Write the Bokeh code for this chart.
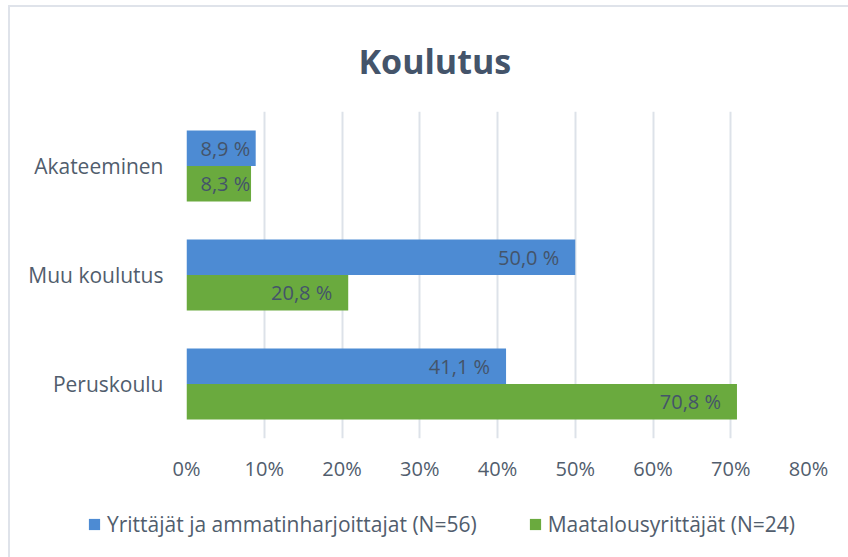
from bokeh.plotting import figure
from bokeh.models import ColumnDataSource, FactorRange, Range1d, FixedTicker, Legend, LegendItem
from bokeh.layouts import column
from bokeh.transform import dodge
from bokeh.core.properties import value
from bokeh.embed import file_html
from bokeh.resources import INLINE

# ---- data ----
categories = ["Akateeminen", "Muu koulutus", "Peruskoulu"]
yrittajat = [8.9, 50.0, 41.1]
maatalous = [8.3, 20.8, 70.8]
series_names = ["Yrittäjät ja ammatinharjoittajat (N=56)", "Maatalousyrittäjät (N=24)"]
x_ticks = [0, 10, 20, 30, 40, 50, 60, 70, 80]
x_tick_labels = ["0%", "10%", "20%", "30%", "40%", "50%", "60%", "70%", "80%"]
title_text = "Koulutus"

# ---- style ----
FONT = "Open Sans"
TEXT_COLOR = "#515d6d"
LABEL_COLOR = "#44546A"
BLUE = "#4d8bd3"
GREEN = "#6aaa3e"
FRAME_LINE = "#dfe3ea"
BAR_H = 0.326
HALF = BAR_H / 2


def fmt(v):
    return f"{v:.1f}".replace(".", ",") + " %"


def label_cols(vals):
    xs, offs, aligns, texts = [], [], [], []
    for v in vals:
        texts.append(fmt(v))
        if v < 15:
            xs.append(0); offs.append(14); aligns.append("left")
        else:
            xs.append(v); offs.append(-16); aligns.append("right")
    return xs, offs, aligns, texts


bx, bo, ba, bt = label_cols(yrittajat)
gx, go, ga, gt = label_cols(maatalous)

src_b = ColumnDataSource(dict(cat=categories, val=yrittajat, lx=bx, lo=bo, la=ba, lt=bt))
src_g = ColumnDataSource(dict(cat=categories, val=maatalous, lx=gx, lo=go, la=ga, lt=gt))

W = 848
p = figure(
    width=W, height=495,
    y_range=FactorRange(factors=list(reversed(categories))),
    x_range=Range1d(0, 80),
    output_backend="svg", toolbar_location=None,
    min_border_left=186, min_border_right=W - 808,
    min_border_top=111, min_border_bottom=57,
)
p.frame_align = False
p.background_fill_color = "white"
p.border_fill_alpha = 0
p.outline_line_color = None

# title
p.title.text = title_text
p.title.text_font = FONT
p.title.text_font_size = "34px"
p.title.text_font_style = "bold"
p.title.text_color = "#44546A"
p.title.align = "left"
p.title.vertical_align = "top"
p.title.offset = 172
p.title.standoff = 52

rb = p.hbar(y=dodge("cat", HALF, range=p.y_range), right="val", left=0, height=BAR_H,
            source=src_b, fill_color=BLUE, line_color=None)
rg = p.hbar(y=dodge("cat", -HALF, range=p.y_range), right="val", left=0, height=BAR_H,
            source=src_g, fill_color=GREEN, line_color=None)

for src, d in ((src_b, HALF), (src_g, -HALF)):
    p.text(x="lx", y=dodge("cat", d, range=p.y_range), text="lt", x_offset="lo",
           text_align="la", text_baseline="middle", source=src,
           text_font=value(FONT), text_font_size="20px", text_color=LABEL_COLOR)

# axes
p.xaxis.ticker = FixedTicker(ticks=x_ticks)
p.xaxis.major_label_overrides = {t: l for t, l in zip(x_ticks, x_tick_labels)}
for ax in (p.xaxis, p.yaxis):
    ax.axis_line_color = None
    ax.major_tick_line_color = None
    ax.minor_tick_line_color = None
    ax.major_tick_out = 0
    ax.major_tick_in = 0
    ax.major_label_text_font = FONT
    ax.major_label_text_color = TEXT_COLOR
p.xaxis.major_label_text_font_size = "20px"
p.xaxis.major_label_standoff = 16
p.yaxis.major_label_text_font_size = "21px"
p.yaxis.major_label_standoff = 23

p.xgrid.ticker = FixedTicker(ticks=x_ticks)
p.xgrid.grid_line_color = "#dde2e9"
p.xgrid.grid_line_width = 2
p.ygrid.grid_line_color = None

# ---- legend strip (separate figure so the legend may extend left of the bars) ----
# its ranges lie away from the data, so its bar renderers only feed the legend swatches
q = figure(width=W, height=62, x_range=Range1d(-100, -90),
           y_range=FactorRange(factors=list(reversed(categories))),
           output_backend="svg", toolbar_location=None,
           min_border_left=0, min_border_right=0, min_border_top=0, min_border_bottom=0)
q.frame_align = False
q.axis.visible = False
q.grid.visible = False
q.outline_line_color = None
q.background_fill_alpha = 0
q.border_fill_alpha = 0
lb = q.hbar(y="cat", right="val", left=0, height=BAR_H, source=src_b,
            fill_color=BLUE, line_color=None)
lg = q.hbar(y="cat", right="val", left=0, height=BAR_H, source=src_g,
            fill_color=GREEN, line_color=None)

legend = Legend(
    items=[LegendItem(label=series_names[0], renderers=[lb]),
           LegendItem(label=series_names[1], renderers=[lg])],
    orientation="horizontal", location=(87, 19),
    glyph_width=14, glyph_height=14, label_standoff=6, spacing=51,
    padding=0, margin=0, border_line_color=None, background_fill_alpha=0,
    label_text_font=FONT, label_text_font_size="21px", label_text_color=TEXT_COLOR,
)
q.add_layout(legend, "center")

layout = column(p, q, spacing=0)
# light chart-area border (left and top edges) as in the reference
layout.styles = {
    "background": (f"linear-gradient({FRAME_LINE},{FRAME_LINE}) 8px 5px / 2px 100% no-repeat, "
                   f"linear-gradient({FRAME_LINE},{FRAME_LINE}) 8px 5px / 100% 2px no-repeat, "
                   "white"),
}
open("out.html", "w").write(file_html(layout, INLINE))
